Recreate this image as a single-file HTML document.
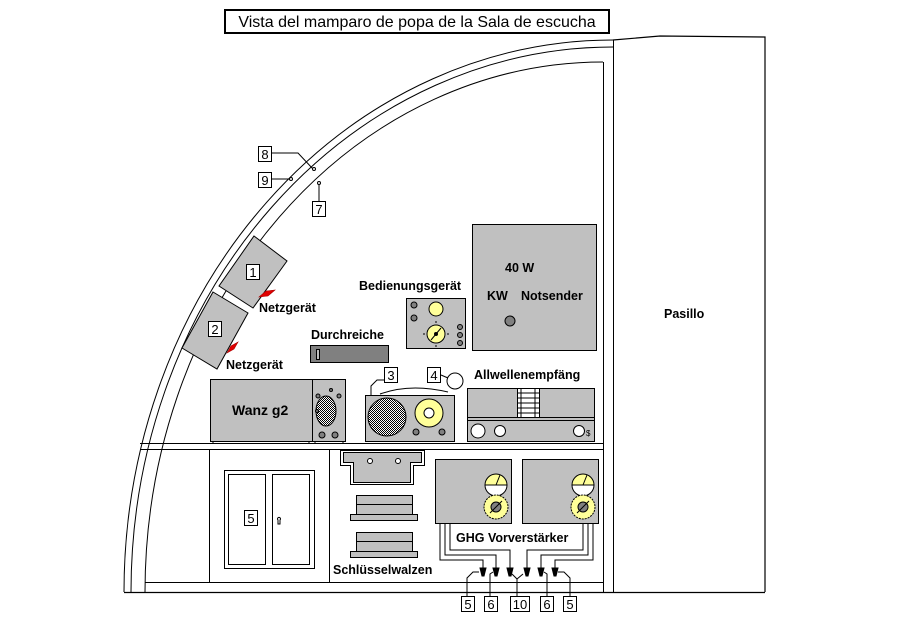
<!DOCTYPE html>
<html><head><meta charset="utf-8"><style>
html,body{margin:0;padding:0;background:#fff}
svg{display:block}
text{font-family:"Liberation Sans",Arial,sans-serif}
.b{font-weight:bold;font-size:12.5px}
.n{font-size:13px}
</style></head><body>
<svg width="900" height="622" viewBox="0 0 900 622" xmlns="http://www.w3.org/2000/svg">
<defs>
<pattern id="chk" width="2" height="2" patternUnits="userSpaceOnUse"><rect width="2" height="2" fill="#fff"/><rect width="1" height="1" fill="#000"/><rect x="1" y="1" width="1" height="1" fill="#000"/></pattern>
</defs>
<g fill="none" stroke="#000" stroke-width="1">
<path d="M124,592 A489,552 0 0 1 613,40"/>
<path d="M131,592 A482,545 0 0 1 613,47"/>
<path d="M145,592 A458,530 0 0 1 603,62"/>
<line x1="603.5" y1="62" x2="603.5" y2="592"/>
<line x1="613.5" y1="40" x2="613.5" y2="592"/>
<path d="M613,40 L660,36 L765,37 L765,592" stroke-width="1.2"/>
<line x1="124" y1="592.5" x2="765" y2="592.5" stroke-width="1.2"/>
<line x1="140" y1="443.5" x2="603" y2="443.5"/>
<line x1="140" y1="449.5" x2="603" y2="449.5"/>
<line x1="145" y1="582.5" x2="603" y2="582.5"/>
<line x1="209.5" y1="449" x2="209.5" y2="582"/>
<line x1="329.5" y1="449" x2="329.5" y2="582"/>
</g>
<rect x="225" y="10" width="384" height="23" fill="#fff" stroke="#000" stroke-width="2"/>
<text x="417" y="27" text-anchor="middle" style="font-size:16px">Vista del mamparo de popa de la Sala de escucha</text>
<text x="664" y="318" class="b">Pasillo</text>

<g fill="#fff" stroke="#000">
<path d="M272,153 H298 L313,169" fill="none"/>
<path d="M272,179 H290" fill="none"/>
<path d="M319,183 V201" fill="none"/>
<circle cx="314" cy="169" r="1.5"/><circle cx="291" cy="179" r="1.5"/><circle cx="319" cy="183" r="1.5"/>
<rect x="258.5" y="146.5" width="13" height="15"/>
<rect x="258.5" y="172.5" width="13" height="15"/>
<rect x="312.5" y="201.5" width="13" height="15"/>
</g>
<text x="265" y="159" text-anchor="middle" class="n">8</text>
<text x="265" y="185" text-anchor="middle" class="n">9</text>
<text x="319" y="214" text-anchor="middle" class="n">7</text>

<polygon points="254,236 287,261 253,308 219,286" fill="#c0c0c0" stroke="#000"/>
<polygon points="213,292 248,313 217,369 182,348" fill="#c0c0c0" stroke="#000"/>
<path d="M259,297 L266,291 L275,290 L268,296 Z" fill="#e00000" stroke="#a00" stroke-width=".6"/>
<path d="M227,353 L231,346 L238,342 L234,349 Z" fill="#e00000" stroke="#a00" stroke-width=".6"/>
<rect x="246.5" y="264.5" width="13" height="15" fill="#fff" stroke="#000"/><text x="253" y="277" text-anchor="middle" class="n">1</text>
<rect x="208.5" y="321.5" width="13" height="15" fill="#fff" stroke="#000"/><text x="215" y="334" text-anchor="middle" class="n">2</text>
<text x="259" y="312" class="b">Netzgerät</text>
<text x="226" y="369" class="b">Netzgerät</text>

<text x="311" y="339" class="b">Durchreiche</text>
<rect x="310.5" y="345.5" width="78" height="17" fill="#808080" stroke="#000"/>
<rect x="316.5" y="349.5" width="3" height="10" fill="#c0c0c0" stroke="#000"/>

<text x="359" y="290" class="b">Bedienungsgerät</text>
<rect x="406.5" y="298.5" width="59" height="50" fill="#c0c0c0" stroke="#000"/>
<g stroke="#000" fill="#808080"><circle cx="414" cy="305" r="3"/><circle cx="414" cy="318" r="3"/><circle cx="460" cy="327" r="2.5"/><circle cx="460" cy="335" r="2.5"/><circle cx="460" cy="343" r="2.5"/></g>
<circle cx="436" cy="309" r="7" fill="#ffff99" stroke="#000"/>
<circle cx="436" cy="334" r="9" fill="#ffff99" stroke="#000"/>
<path d="M425,334h-2M447,334h2M436,323v-2M436,345v2M431,340L441,328" stroke="#000"/>
<circle cx="436" cy="334" r="2" fill="#000"/>

<rect x="472.5" y="224.5" width="124" height="126" fill="#c0c0c0" stroke="#000"/>
<text x="505" y="272" class="b">40 W</text>
<text x="487" y="300" class="b">KW</text>
<text x="521" y="300" class="b">Notsender</text>
<circle cx="510" cy="321" r="5" fill="#808080" stroke="#000"/>

<rect x="210.5" y="379.5" width="102" height="62" fill="#c0c0c0" stroke="#000"/>
<rect x="312.5" y="379.5" width="33" height="62" fill="#c0c0c0" stroke="#000"/>
<text x="232" y="415" class="b" style="font-size:14px">Wanz g2</text>
<ellipse cx="326" cy="411" rx="10" ry="15" fill="url(#chk)" stroke="#000"/>
<g fill="#808080" stroke="#000"><circle cx="322" cy="435" r="3"/><circle cx="335" cy="435" r="3"/><circle cx="318" cy="396" r="2"/><circle cx="339" cy="396" r="2"/><circle cx="331" cy="390" r="1.5"/><circle cx="317" cy="411" r="1.5"/></g>
<path d="M213,442v2M309,442v2M315,442v2M343,442v2" stroke="#000"/>

<path d="M371,395 V386 L377,380 H384" fill="none" stroke="#000"/>
<path d="M380,394 Q410,383 448,392" fill="none" stroke="#000"/>
<rect x="365.5" y="395.5" width="89" height="46" fill="#c0c0c0" stroke="#000"/>
<circle cx="387" cy="417" r="19" fill="url(#chk)" stroke="#000"/>
<circle cx="429" cy="413" r="14" fill="#ffff99" stroke="#000"/>
<circle cx="429" cy="413" r="5" fill="#fff" stroke="#000"/>
<g fill="#808080" stroke="#000"><circle cx="416" cy="432" r="3"/><circle cx="442" cy="432" r="3"/></g>
<rect x="384.5" y="367.5" width="13" height="15" fill="#fff" stroke="#000"/><text x="391" y="380" text-anchor="middle" class="n">3</text>
<rect x="427.5" y="367.5" width="13" height="15" fill="#fff" stroke="#000"/><text x="434" y="380" text-anchor="middle" class="n">4</text>
<path d="M441,375 L448,378" stroke="#000"/>
<circle cx="455" cy="381" r="8" fill="#fff" stroke="#000"/>

<text x="474" y="379" class="b">Allwellenempfäng</text>
<rect x="467.5" y="388.5" width="127" height="53" fill="#c0c0c0" stroke="#000"/>
<line x1="467" y1="417.5" x2="595" y2="417.5" stroke="#000"/>
<line x1="467" y1="420.5" x2="595" y2="420.5" stroke="#000"/>
<rect x="517.5" y="388.5" width="22" height="29" fill="#fff" stroke="#000"/>
<path d="M517,393h22M517,398h22M517,403h22M517,408h22M517,413h22M521,388v29M535,388v29" stroke="#000"/>
<g fill="#fff" stroke="#000"><circle cx="478" cy="431" r="7"/><circle cx="500" cy="431" r="5.5"/><circle cx="579" cy="431" r="5.5"/></g>
<text x="586" y="436" style="font-size:8px">$</text>

<rect x="224.5" y="470.5" width="90" height="98" fill="#fff" stroke="#000"/>
<rect x="228.5" y="474.5" width="37" height="90" fill="#fff" stroke="#000"/>
<rect x="272.5" y="474.5" width="37" height="90" fill="#fff" stroke="#000"/>
<rect x="244.5" y="510.5" width="13" height="15" fill="#fff" stroke="#000"/><text x="251" y="523" text-anchor="middle" class="n">5</text>
<path d="M278,520 a1.5,1.5 0 1 1 2,0 v4 h-2z" fill="#fff" stroke="#000"/>

<path d="M340.5,450.5 V465.5 H350.5 V484.5 H413.5 V465.5 H424.5 V450.5 Z" fill="#fff" stroke="#000"/>
<path d="M343.5,452.5 V462.5 H353.5 V482.5 H410.5 V462.5 H421.5 V452.5 Z" fill="#c0c0c0" stroke="#000"/>
<circle cx="370" cy="461" r="2.5" fill="#fff" stroke="#000"/><circle cx="398" cy="461" r="2.5" fill="#fff" stroke="#000"/>
<g fill="#c0c0c0" stroke="#000">
<rect x="356.5" y="495.5" width="56" height="19"/><line x1="356" y1="504.5" x2="412" y2="504.5"/><rect x="350.5" y="514.5" width="67" height="6"/>
<rect x="356.5" y="532.5" width="56" height="19"/><line x1="356" y1="541.5" x2="412" y2="541.5"/><rect x="350.5" y="551.5" width="67" height="6"/>
</g>
<text x="333" y="574" class="b">Schlüsselwalzen</text>

<g fill="#c0c0c0" stroke="#000"><rect x="435.5" y="459.5" width="76" height="64"/><rect x="522.5" y="459.5" width="76" height="64"/></g>
<g stroke="#000">
<path d="M485,485 a11,11 0 0 1 22,0z" fill="#ffff99"/><path d="M485,485 a11,11 0 0 0 22,0z" fill="#fff"/><line x1="496" y1="485" x2="500" y2="475"/>
<path d="M572,485 a11,11 0 0 1 22,0z" fill="#ffff99"/><path d="M572,485 a11,11 0 0 0 22,0z" fill="#fff"/><line x1="583" y1="485" x2="587" y2="475"/>
<circle cx="496" cy="507" r="12" fill="#ffff99" stroke-dasharray="2,1"/><circle cx="496" cy="507" r="5" fill="#808080"/><line x1="490" y1="513" x2="502" y2="501"/>
<circle cx="583" cy="507" r="12" fill="#ffff99" stroke-dasharray="2,1"/><circle cx="583" cy="507" r="5" fill="#808080"/><line x1="577" y1="513" x2="589" y2="501"/>
</g>
<text x="456" y="542" class="b">GHG Vorverstärker</text>
<g fill="none" stroke="#000">
<path d="M440,523 V560 H483 V568"/><path d="M445,523 V555 H496 V568"/><path d="M450,523 V550 H510 V568"/>
<path d="M593,523 V560 H555 V568"/><path d="M588,523 V555 H541 V568"/><path d="M583,523 V550 H527 V568"/>
<path d="M467,596 V578 L473,572 H479"/><path d="M490,596 V574 L493,572"/><path d="M517,596 V579 L512,574 M517,579 L523,574"/><path d="M547,596 V574 L544,572"/><path d="M570,596 V578 L564,572 H558"/>
</g>
<g fill="#000" stroke="#000">
<path d="M480,568h6l-2,8h-2z"/><path d="M493,568h6l-2,8h-2z"/><path d="M507,568h6l-2,8h-2z"/><path d="M524,568h6l-2,8h-2z"/><path d="M538,568h6l-2,8h-2z"/><path d="M552,568h6l-2,8h-2z"/>
</g>
<g fill="#fff" stroke="#000">
<rect x="461.5" y="596.5" width="13" height="15"/><rect x="484.5" y="596.5" width="13" height="15"/><rect x="510.5" y="596.5" width="19" height="15"/><rect x="540.5" y="596.5" width="13" height="15"/><rect x="563.5" y="596.5" width="13" height="15"/>
</g>
<g text-anchor="middle"><text x="468" y="609" class="n">5</text><text x="491" y="609" class="n">6</text><text x="520" y="609" class="n">10</text><text x="547" y="609" class="n">6</text><text x="570" y="609" class="n">5</text></g>
</svg>
</body></html>
